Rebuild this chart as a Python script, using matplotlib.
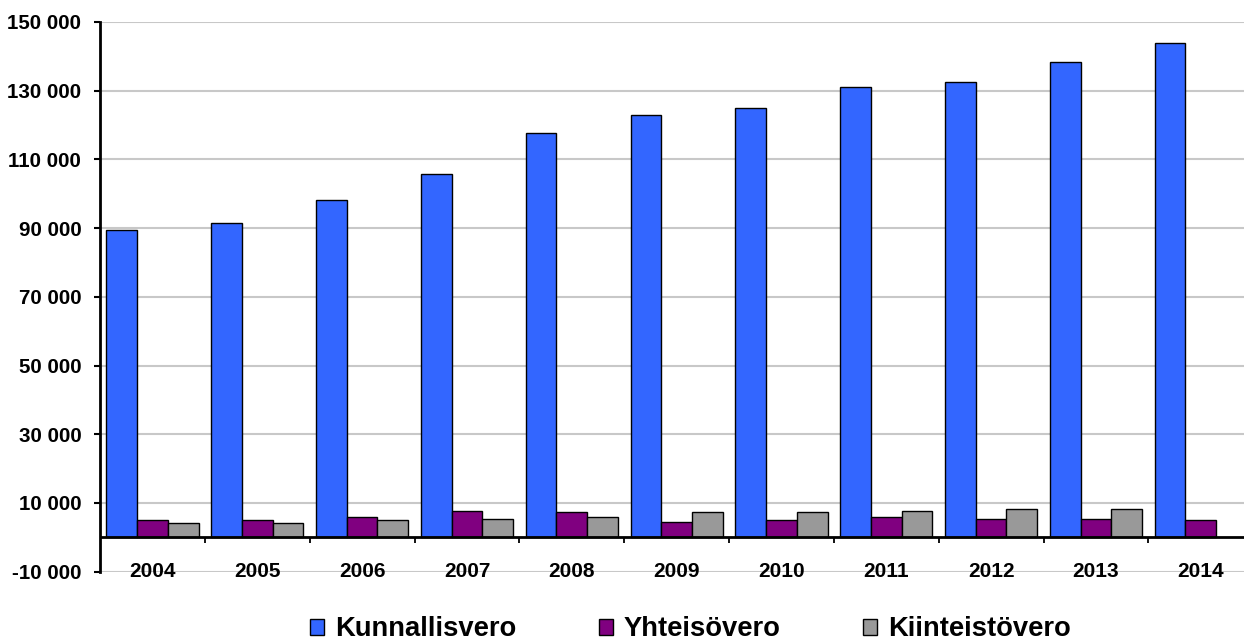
import matplotlib
matplotlib.use("Agg")
import matplotlib.pyplot as plt
import numpy as np

plt.rcParams['font.family'] = ['Liberation Sans', 'DejaVu Sans']
plt.rcParams['font.weight'] = 'bold'

# data
years = ["2004", "2005", "2006", "2007", "2008", "2009", "2010", "2011", "2012", "2013", "2014"]
kunnallisvero = [89500, 91500, 98300, 105700, 117600, 123000, 125000, 131200, 132400, 138400, 143900]
yhteisovero = [5000, 5000, 5800, 7650, 7350, 4600, 5000, 5800, 5400, 5400, 5000]
kiinteistovero = [4300, 4300, 5000, 5400, 5900, 7350, 7350, 7700, 8100, 8100, np.nan]
series_names = ["Kunnallisvero", "Yhteisövero", "Kiinteistövero"]
ytick_values = [-10000, 10000, 30000, 50000, 70000, 90000, 110000, 130000, 150000]
ytick_labels = ["-10 000", "10 000", "30 000", "50 000", "70 000", "90 000", "110 000", "130 000", "150 000"]

colors = ['#3366FF', '#800080', '#999999']

fig = plt.figure(figsize=(12.44, 6.43), dpi=100)
ax = fig.add_axes([0.0804, 0.1109, 0.927, 0.855])

x = np.arange(len(years))
w = 0.293
handles = []
for k, vals in enumerate([kunnallisvero, yhteisovero, kiinteistovero]):
    b = ax.bar(x + (k - 1) * w, vals, width=w, color=colors[k], edgecolor='black',
               linewidth=1.0, zorder=3, label=series_names[k])
    handles.append(b)

ax.set_xlim(-0.5, len(years) - 0.5)
ax.set_ylim(-10000, 150000)

# grid and zero line
ax.set_yticks(ytick_values)
ax.set_yticklabels(ytick_labels, fontsize=14.8, fontweight='bold')
ax.yaxis.grid(True, color='#C8C8C8', linewidth=1.5, zorder=0)
ax.set_axisbelow(True)
ax.axhline(0, color='black', linewidth=2, zorder=4)
ax.tick_params(axis='y', length=4.5, width=1.5, pad=9, color='black')

# category separators on the zero line
ax.vlines(x[:-1] + 0.5, -1700, 0, color='black', linewidth=1.3, zorder=4)

# category labels
ax.set_xticks([])
for i, yr in enumerate(years):
    ax.text(i, -10000, yr, ha='center', va='center', fontsize=15, fontweight='bold', zorder=5)

for s in ['top', 'right', 'bottom']:
    ax.spines[s].set_visible(False)
ax.spines['left'].set_linewidth(2)

fig.legend(handles, series_names, loc='center', bbox_to_anchor=(0.555, 0.021), ncol=3,
           frameon=False, prop={'size': 19.7, 'weight': 'bold'}, handlelength=0.52,
           handleheight=0.52, handletextpad=0.4, columnspacing=3.0)

fig.savefig("out.png", dpi=100)
